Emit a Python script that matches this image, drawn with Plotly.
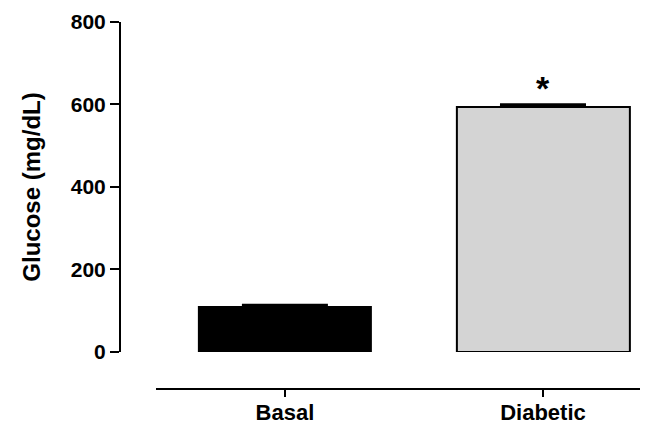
import plotly.graph_objects as go

categories = ["Basal", "Diabetic"]
glucose = [110, 595]
sem = [4, 5]
bar_colors = ["#000000", "#d4d4d4"]
y_ticks = [0, 200, 400, 600, 800]
significance = ["", "*"]

FONT = "Arial, 'Liberation Sans', sans-serif"

fig = go.Figure()
fig.add_trace(go.Bar(
    x=[0, 1],
    y=glucose,
    width=0.67,
    marker=dict(color=bar_colors, line=dict(color="#000000", width=2)),
    error_y=dict(type="data", array=sem, arrayminus=[0, 0], symmetric=False,
                 color="#000000", thickness=2.5, width=43),
    showlegend=False,
))

for i, (v, e, s) in enumerate(zip(glucose, sem, significance)):
    if s:
        fig.add_annotation(x=i, y=v + e, text=s, showarrow=False,
                           yanchor="bottom", yshift=-5,
                           font=dict(family=FONT, size=34, color="#000000", weight="bold"))

# page body has an 8px margin, so the figure is drawn 8px smaller
fig.update_layout(
    width=651, height=417,
    margin=dict(l=112, r=19, t=14, b=36, autoexpand=False),
    paper_bgcolor="white", plot_bgcolor="white",
    font=dict(family=FONT, color="#000000"),
    bargap=0,
    xaxis=dict(
        domain=[0.069, 1], anchor="free", position=0,
        range=[-0.5, 1.376], automargin=False,
        tickmode="array", tickvals=[0, 1], ticktext=categories,
        showline=True, linecolor="#000000", linewidth=2,
        ticks="outside", ticklen=7, tickwidth=2, tickcolor="#000000",
        ticklabelstandoff=-3,
        showgrid=False, zeroline=False,
        tickfont=dict(family=FONT, size=22, color="#000000", weight="bold"),
    ),
    yaxis=dict(
        domain=[0.101, 1], anchor="free", position=0,
        range=[0, 800], automargin=False,
        tickmode="array", tickvals=y_ticks,
        showline=True, linecolor="#000000", linewidth=2,
        ticks="outside", ticklen=9, tickwidth=2, tickcolor="#000000",
        showgrid=False, zeroline=False,
        tickfont=dict(family=FONT, size=21, color="#000000", weight="bold"),
        title=dict(text="Glucose (mg/dL)", standoff=22,
                   font=dict(family=FONT, size=24, color="#000000", weight="bold")),
    ),
)

fig.write_html("out.html")
